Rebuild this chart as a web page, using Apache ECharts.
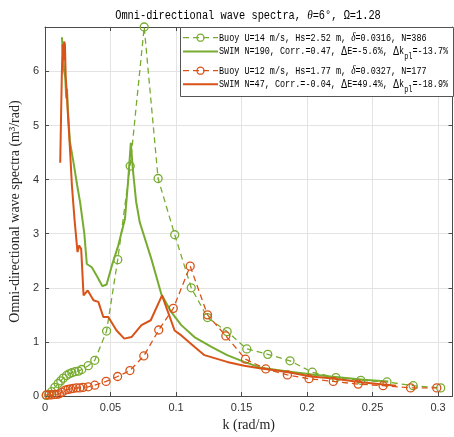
<!DOCTYPE html>
<html>
<head>
<meta charset="utf-8">
<script src="https://cdn.jsdelivr.net/npm/echarts@6/dist/echarts.min.js"></script>
<style>html,body{margin:0;padding:0;background:#fff;}#c{width:454px;height:437px;}</style>
</head>
<body>
<div id="c"></div>
<script>
// ---- data ----
var buoy14K = [0.001,0.003,0.005,0.0075,0.010,0.012,0.014,0.0165,0.0185,0.0205,0.023,0.0255,0.028,0.033,0.038,0.047,0.0555,0.065,0.0757,0.0863,0.099,0.1116,0.124,0.139,0.154,0.170,0.187,0.204,0.222,0.241,0.261,0.281,0.302];
var buoy14S = [0.01,0.03,0.08,0.16,0.23,0.28,0.33,0.38,0.41,0.43,0.45,0.46,0.49,0.56,0.66,1.20,2.52,4.25,6.82,4.02,2.98,2.00,1.45,1.19,0.87,0.77,0.65,0.44,0.34,0.29,0.26,0.19,0.15];

var swim190K = [0.0129,0.0138,0.0146,0.0154,0.0162,0.0168,0.0174,0.0190,0.0218,0.0245,0.0268,0.0300,0.0319,0.0357,0.0400,0.0438,0.0470,0.0515,0.0559,0.0610,0.0635,0.0655,0.0670,0.0695,0.0723,0.0812,0.0888,0.0964,0.104,0.114,0.127,0.139,0.152,0.165,0.177,0.190,0.2026,0.218,0.243,0.262];
var swim190S = [6.63,6.3,6.0,5.9,5.5,5.68,5.3,4.7,4.31,3.9,3.58,3.0,2.44,2.38,2.2,2.03,2.06,2.45,2.78,3.27,4.0,4.68,4.2,3.6,3.21,2.53,1.88,1.55,1.31,1.09,0.91,0.755,0.63,0.52,0.48,0.44,0.40,0.36,0.30,0.27];

var buoy12K = [0.001,0.003,0.005,0.007,0.009,0.011,0.013,0.0155,0.0175,0.0195,0.0215,0.024,0.0265,0.029,0.033,0.038,0.0466,0.0554,0.0648,0.0754,0.0868,0.0979,0.1108,0.124,0.138,0.153,0.1685,0.185,0.2015,0.220,0.239,0.258,0.279,0.299];
var buoy12S = [0.02,0.02,0.02,0.03,0.03,0.04,0.07,0.11,0.12,0.13,0.14,0.15,0.15,0.16,0.17,0.20,0.27,0.36,0.47,0.74,1.22,1.62,2.40,1.50,1.11,0.68,0.50,0.39,0.32,0.27,0.22,0.19,0.15,0.15];

var swim47K = [0.0116,0.0122,0.0128,0.0134,0.0140,0.0146,0.0152,0.0158,0.0166,0.0175,0.0192,0.0205,0.0225,0.0248,0.0260,0.0276,0.0294,0.0326,0.0370,0.0407,0.0445,0.0483,0.0546,0.0605,0.0660,0.0736,0.0807,0.0893,0.0939,0.0989,0.104,0.114,0.1217,0.139,0.152,0.165,0.177,0.190,0.2026,0.218,0.243,0.268];
var swim47S = [4.31,5.1,5.9,6.5,6.2,6.55,6.5,5.9,5.6,5.2,4.5,3.9,3.27,2.66,2.78,2.72,1.86,1.95,1.77,1.74,1.46,1.46,1.21,1.06,1.09,1.31,1.40,1.86,1.55,1.21,1.12,0.91,0.755,0.63,0.56,0.51,0.47,0.42,0.36,0.326,0.25,0.19];

var xTicks = [0, 0.05, 0.1, 0.15, 0.2, 0.25, 0.3];
var yTicks = [0, 1, 2, 3, 4, 5, 6];

var titleText = 'Omni-directional wave spectra, {i|\u03B8}=6\u00B0, \u03A9=1.28';
var legendRows = [
  {kind:'buoy', color:'#77AC30', text:'{a|Buoy U=14 m/s, Hs=2.52 m, }{i|\u03B4}{a|=0.0316, N=386}'},
  {kind:'swim', color:'#77AC30', text:'{a|SWIM N=190, Corr.=0.47, }{d|\u0394}{a|E=-5.6%, }{d|\u0394}{a|k}{s|pl}{a|=-13.7%}'},
  {kind:'buoy', color:'#D95319', text:'{a|Buoy U=12 m/s, Hs=1.77 m, }{i|\u03B4}{a|=0.0327, N=177}'},
  {kind:'swim', color:'#D95319', text:'{a|SWIM N=47, Corr.=-0.04, }{d|\u0394}{a|E=49.4%, }{d|\u0394}{a|k}{s|pl}{a|=-18.9%}'}
];

function pairs(k, s){ return k.map(function(x,i){ return [x, s[i]]; }); }

var GREEN = '#77AC30', RED = '#D95319';
var AX = '#4a4a4a', GRIDC = '#e3e3e3', LBL = '#333333';
var gridL = 43, gridR = 1.5, gridT = 27, gridB = 39.3;

var chart = echarts.init(document.getElementById('c'), null, {renderer:'canvas'});

function buoySeries(name, data, color, z){
  return {name:name, type:'line', data:data, z:z, symbol:'circle', symbolSize:8,
    lineStyle:{color:color, width:1.3, type:[6,4]},
    itemStyle:{color:'rgba(255,255,255,0)', borderColor:color, borderWidth:1.3},
    emphasis:{disabled:true}, silent:true};
}
function swimSeries(name, data, color, z){
  return {name:name, type:'line', data:data, z:z, symbol:'none',
    lineStyle:{color:color, width:2}, emphasis:{disabled:true}, silent:true};
}

var rich = {
  a:{fontFamily:'Liberation Mono', fontSize:11, color:'#262626'},
  i:{fontFamily:'Liberation Serif', fontStyle:'italic', fontSize:12, color:'#262626'},
  d:{fontFamily:'Liberation Sans', fontSize:12, color:'#262626'},
  s:{fontFamily:'Liberation Mono', fontSize:9, color:'#262626', padding:[10,0,0,0]}
};
var titleRich = {
  a:{fontFamily:'Liberation Mono', fontSize:12, color:'#262626'},
  i:{fontFamily:'Liberation Serif', fontStyle:'italic', fontSize:13, color:'#262626'}
};

var graphics = [];
graphics.push({type:'text', x:248, y:15.5, scaleX:0.86, z:103,
  style:{text:'{a|Omni-directional wave spectra, }{i|\u03B8}{a|=6\u00B0, \u03A9=1.28}', rich:titleRich, align:'center', verticalAlign:'middle'}});
var boxX = 180.5, boxY = 27.5, boxW = 273, boxH = 69;
graphics.push({type:'rect', shape:{x:boxX, y:boxY, width:boxW, height:boxH}, style:{fill:'#fff', stroke:'#555', lineWidth:1}, z:100});
var rowY = [37.7, 51.5, 70.7, 84.3];
legendRows.forEach(function(r, i){
  var y = rowY[i];
  if (r.kind === 'buoy'){
    graphics.push({type:'line', shape:{x1:183, y1:y, x2:218, y2:y}, style:{stroke:r.color, lineWidth:1.3, lineDash:[6,4]}, z:101});
    graphics.push({type:'circle', shape:{cx:200.5, cy:y, r:3.5}, style:{fill:'none', stroke:r.color, lineWidth:1.3}, z:102});
  } else {
    graphics.push({type:'line', shape:{x1:183, y1:y, x2:218, y2:y}, style:{stroke:r.color, lineWidth:2}, z:101});
  }
  graphics.push({type:'text', x:219, y:y, scaleX:0.77, z:103,
    style:{text:r.text, rich:rich, verticalAlign:'middle', align:'left'}});
});

var option = {
  animation:false,
  backgroundColor:'#fff',
  grid:{left:gridL, right:gridR, top:gridT, bottom:gridB, containLabel:false},
  xAxis:[{
    type:'value', min:xTicks[0], max:0.311, interval:xTicks[1]-xTicks[0], position:'bottom',
    name:'k (rad/m)', nameLocation:'middle', nameGap:22,
    nameTextStyle:{fontFamily:'Liberation Serif', fontSize:14, color:'#262626'},
    axisLine:{show:true, onZero:false, lineStyle:{color:AX, width:1}},
    axisTick:{show:true, inside:true, length:4, lineStyle:{color:AX}},
    axisLabel:{showMaxLabel:false, fontFamily:'Liberation Sans', fontSize:11, color:LBL, margin:6,
      formatter:function(v){ return xTicks.indexOf(Math.round(v*100)/100) >= 0 ? String(Math.round(v*100)/100) : ''; }},
    splitLine:{show:true, lineStyle:{color:GRIDC, width:1}}
  },{
    type:'value', min:xTicks[0], max:0.311, interval:xTicks[1]-xTicks[0], position:'top',
    axisLine:{show:true, onZero:false, lineStyle:{color:AX, width:1}},
    axisTick:{show:true, inside:true, length:4, lineStyle:{color:AX}},
    axisLabel:{show:false}, splitLine:{show:false}
  }],
  yAxis:[{
    type:'value', min:yTicks[0], max:6.82, interval:yTicks[1]-yTicks[0], position:'left',
    name:'Omni-directional wave spectra (m\u00B3/rad)', nameLocation:'middle', nameGap:22,
    nameTextStyle:{fontFamily:'Liberation Serif', fontSize:14, color:'#262626'},
    axisLine:{show:true, onZero:false, lineStyle:{color:AX, width:1}},
    axisTick:{show:true, inside:true, length:4, lineStyle:{color:AX}},
    axisLabel:{showMaxLabel:false, fontFamily:'Liberation Sans', fontSize:11, color:LBL, margin:6,
      formatter:function(v){ return yTicks.indexOf(v) >= 0 ? String(v) : ''; }},
    splitLine:{show:true, lineStyle:{color:GRIDC, width:1}}
  },{
    type:'value', min:yTicks[0], max:6.82, interval:yTicks[1]-yTicks[0], position:'right',
    axisLine:{show:true, onZero:false, lineStyle:{color:AX, width:1}},
    axisTick:{show:true, inside:true, length:4, lineStyle:{color:AX}},
    axisLabel:{show:false}, splitLine:{show:false}
  }],
  series:[
    buoySeries('Buoy U=14 m/s', pairs(buoy14K, buoy14S), GREEN, 2),
    swimSeries('SWIM N=190', pairs(swim190K, swim190S), GREEN, 3),
    buoySeries('Buoy U=12 m/s', pairs(buoy12K, buoy12S), RED, 4),
    swimSeries('SWIM N=47', pairs(swim47K, swim47S), RED, 5)
  ],
  graphic:graphics
};
chart.setOption(option);
</script>
</body>
</html>
